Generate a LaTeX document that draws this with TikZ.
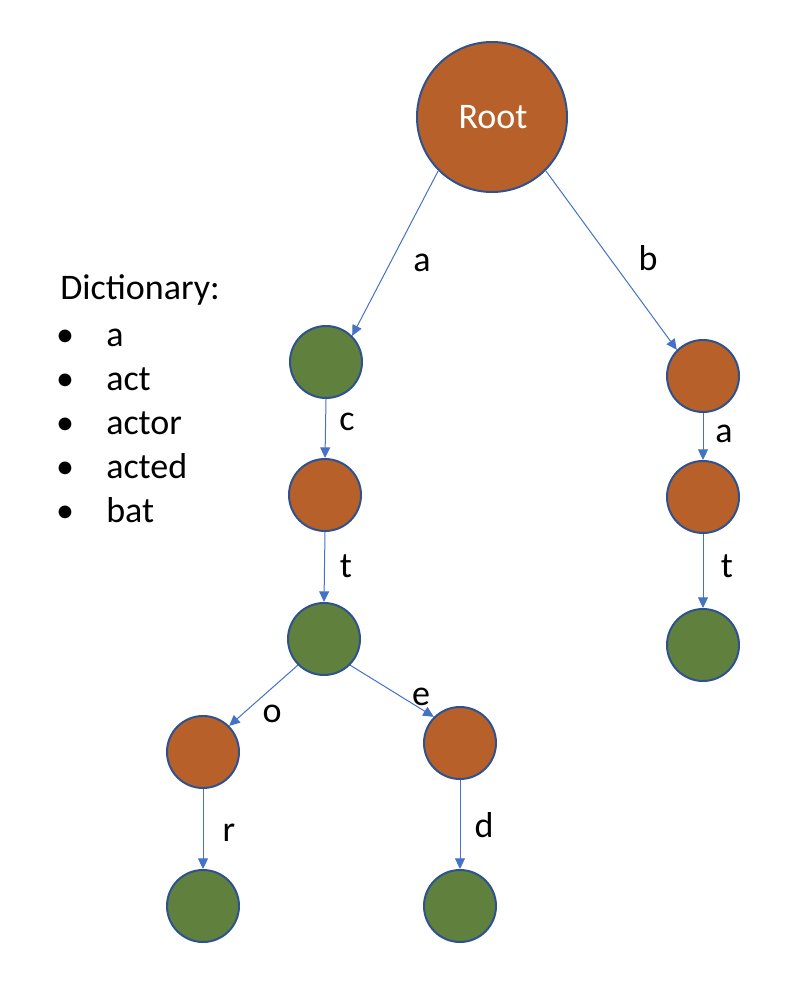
\documentclass[tikz,border=0pt]{standalone}
\usepackage{fontspec}
\setmainfont{Carlito}
\usetikzlibrary{arrows.meta}
\definecolor{orng}{RGB}{184,96,42}
\definecolor{grn}{RGB}{96,128,62}
\definecolor{bord}{RGB}{47,82,143}
\definecolor{arr}{RGB}{68,114,196}
\begin{document}
\begin{tikzpicture}[x=0.75pt,y=-0.75pt,
  trienode/.style={circle,draw=bord,line width=1.5pt,minimum size=54pt,inner sep=0pt},
  onode/.style={trienode,fill=orng},
  gnode/.style={trienode,fill=grn},
  conn/.style={draw=arr,line width=0.75pt,-{Triangle[length=8pt,width=7.5pt]}},
  lbl/.style={anchor=base,inner sep=0pt,font=\fontsize{27pt}{32pt}\selectfont},
  txt/.style={anchor=base west,inner sep=0pt,font=\fontsize{27pt}{32pt}\selectfont}]
\useasboundingbox (0,0) rectangle (798,1002);
% nodes
\node[trienode,fill=orng,minimum size=112.5pt] (root) at (492,117) {};
\node[anchor=base,inner sep=0pt,text=white,font=\fontsize{27pt}{32pt}\selectfont] (roottxt) at (493,129) {Root};
\node[gnode] (na) at (326,362) {};
\node[onode] (nc) at (325,495) {};
\node[gnode] (nt) at (324,639) {};
\node[onode] (no) at (203,752) {};
\node[onode] (ne) at (460,743) {};
\node[gnode] (nr) at (203,906) {};
\node[gnode] (nd) at (460,906) {};
\node[onode] (nb) at (703,376) {};
\node[onode] (nba) at (703,497) {};
\node[gnode] (nbat) at (703,645) {};
% connectors
\draw[conn] (root.225) -- (na.45);
\draw[conn] (root.315) -- (nb.135);
\draw[conn] (na.south) -- (nc.north);
\draw[conn] (nc.south) -- (nt.north);
\draw[conn] (nt.225) -- (no.45);
\draw[conn] (nt.315) -- (ne.135);
\draw[conn] (no.south) -- (nr.north);
\draw[conn] (ne.south) -- (nd.north);
\draw[conn] (nb.south) -- (nba.north);
\draw[conn] (nba.south) -- (nbat.north);
% edge labels
\node[lbl] (la) at (422,271) {a};
\node[lbl] (lb) at (648,270) {b};
\node[lbl] (lc) at (347,430) {c};
\node[lbl] (lt) at (346,577) {t};
\node[lbl] (lo) at (272,722) {o};
\node[lbl] (le) at (421,705) {e};
\node[lbl] (lr) at (229,841) {r};
\node[lbl] (ld) at (484,837) {d};
\node[lbl] (lba) at (724,442) {a};
\node[lbl] (lbt) at (727,577) {t};
% dictionary
\node[txt] (dict) at (60,299) {Dictionary:};
\foreach \w/\yy [count=\i] in {a/346,act/390,actor/434,acted/478,bat/522}{
  \node[lbl] (bul\i) at (65,\yy) {•};
  \node[txt] (item\i) at (106,\yy) {\w};
}
\end{tikzpicture}
\end{document}
